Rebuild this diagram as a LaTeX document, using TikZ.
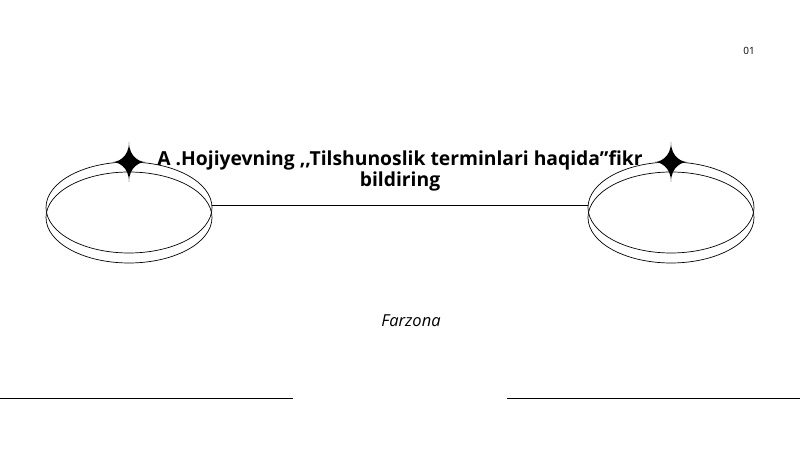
\documentclass[tikz,border=0pt]{standalone}
\usepackage{fontspec}
\setmainfont{Open Sans}
\tikzset{ring/.style={draw, line width=0.7pt},
  sparkle/.style={fill=black}}
\newcommand{\sparkleat}[1]{%
  \fill[sparkle] (#1) ++(0,20pt) .. controls +(0,-16pt) and +(4pt,0) .. ++(-16pt,-20pt)
    .. controls +(4pt,0) and +(0,16pt) .. ++(16pt,-20pt)
    .. controls +(0,16pt) and +(-4pt,0) .. ++(16pt,20pt)
    .. controls +(-4pt,0) and +(0,-16pt) .. ++(-16pt,20pt) -- cycle;}
\begin{document}
\begin{tikzpicture}[x=1pt,y=1pt]
  \useasboundingbox (0,0) rectangle (800,450);
  % ellipses left and right
  \foreach \cx in {129,671} {
    \draw[ring] (\cx,242.5) ellipse [x radius=83, y radius=45.5];
    \draw[ring] (\cx,232.5) ellipse [x radius=83, y radius=45.5];
    \sparkleat{\cx,288}
  }
  % connector
  \coordinate (left ring) at (212,245);
  \coordinate (right ring) at (588,245);
  \draw[ring] (left ring) -- (right ring);
  % titles
  \node[font=\bfseries\fontsize{19.3}{21}\selectfont, align=center] (title) at (400,279)
    {A .Hojiyevning ,{},Tilshunoslik terminlari haqida”fikr\\bildiring};
  \node[font=\itshape\fontsize{16.5}{19}\selectfont] (author) at (411,129) {Farzona};
  \node[font=\fontsize{10}{12}\selectfont] (page) at (749,399) {01};
  % bottom rules
  \draw[ring] (0,52) -- (293,52);
  \draw[ring] (507,52) -- (800,52);
\end{tikzpicture}
\end{document}
